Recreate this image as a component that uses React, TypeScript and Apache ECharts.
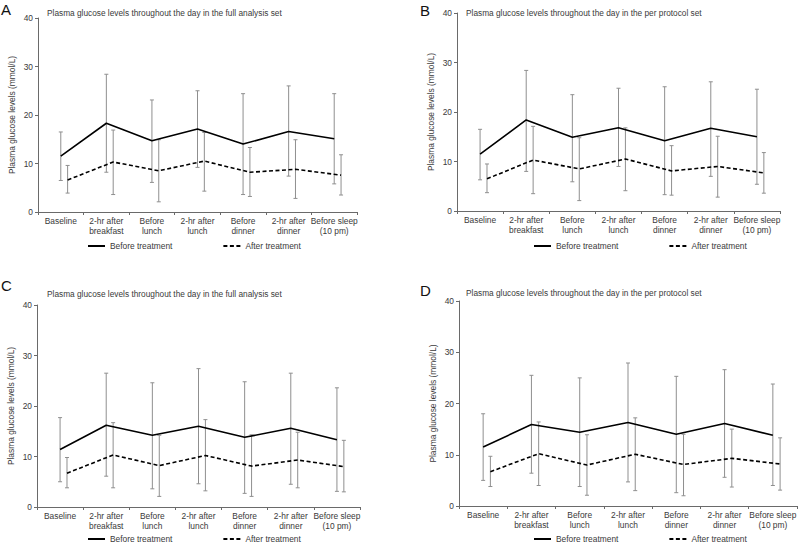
import React, { useEffect, useRef } from "react";
import * as echarts from "echarts";

const CATEGORIES = [
  "Baseline",
  "2-hr after\nbreakfast",
  "Before\nlunch",
  "2-hr after\nlunch",
  "Before\ndinner",
  "2-hr after\ndinner",
  "Before sleep\n(10 pm)",
];
const Y_TICKS = [0, 10, 20, 30, 40];
const PANEL_LETTERS = ["A", "B", "C", "D"];
const PANEL_TITLES = [
  "Plasma glucose levels throughout the day in the full analysis set",
  "Plasma glucose levels throughout the day in the per protocol set",
  "Plasma glucose levels throughout the day in the full analysis set",
  "Plasma glucose levels throughout the day in the per protocol set",
];
const Y_NAME = "Plasma glucose levels (mmol/L)";
const SERIES_NAMES = ["Before treatment", "After treatment"];

// Panel A
const beforeMeanA = [11.5, 18.3, 14.7, 17.1, 14.0, 16.6, 15.1];
const beforeLowA = [6.5, 8.2, 6.1, 9.2, 3.6, 7.4, 5.8];
const beforeHighA = [16.5, 28.4, 23.1, 25.0, 24.4, 26.0, 24.4];
const afterMeanA = [6.6, 10.3, 8.5, 10.5, 8.2, 8.8, 7.6];
const afterLowA = [3.9, 3.6, 2.1, 4.3, 3.2, 2.8, 3.5];
const afterHighA = [9.6, 16.9, 14.9, 16.4, 13.3, 14.9, 11.8];

// Panel B
const beforeMeanB = [11.5, 18.4, 14.9, 16.8, 14.2, 16.7, 15.0];
const beforeLowB = [6.3, 8.0, 5.9, 9.0, 3.3, 7.0, 5.4];
const beforeHighB = [16.5, 28.4, 23.5, 24.8, 25.1, 26.1, 24.6];
const afterMeanB = [6.5, 10.3, 8.5, 10.5, 8.1, 9.0, 7.7];
const afterLowB = [3.7, 3.5, 2.1, 4.1, 3.2, 2.8, 3.6];
const afterHighB = [9.5, 17.1, 14.8, 16.8, 13.2, 15.1, 11.8];

// Panel C
const beforeMeanC = [11.4, 16.2, 14.2, 16.0, 13.8, 15.6, 13.3];
const beforeLowC = [5.0, 6.1, 3.6, 4.6, 2.7, 4.5, 3.1];
const beforeHighC = [17.7, 26.5, 24.6, 27.4, 24.8, 26.5, 23.6];
const afterMeanC = [6.7, 10.3, 8.2, 10.2, 8.1, 9.3, 8.0];
const afterLowC = [3.8, 3.8, 2.1, 3.2, 2.1, 3.8, 3.0];
const afterHighC = [9.8, 16.7, 14.2, 17.3, 14.3, 14.8, 13.2];

// Panel D
const beforeMeanD = [11.5, 15.9, 14.4, 16.3, 14.0, 16.1, 13.8];
const beforeLowD = [5.0, 6.4, 3.8, 4.7, 2.6, 5.6, 4.0];
const beforeHighD = [18.0, 25.5, 25.0, 27.9, 25.3, 26.6, 23.8];
const afterMeanD = [6.7, 10.2, 8.0, 10.1, 8.1, 9.3, 8.2];
const afterLowD = [3.8, 4.0, 2.1, 3.0, 2.0, 3.7, 3.1];
const afterHighD = [9.7, 16.4, 13.9, 17.2, 14.0, 15.0, 13.3];

const PANELS = [
  { bm: beforeMeanA, bl: beforeLowA, bh: beforeHighA, am: afterMeanA, al: afterLowA, ah: afterHighA },
  { bm: beforeMeanB, bl: beforeLowB, bh: beforeHighB, am: afterMeanB, al: afterLowB, ah: afterHighB },
  { bm: beforeMeanC, bl: beforeLowC, bh: beforeHighC, am: afterMeanC, al: afterLowC, ah: afterHighC },
  { bm: beforeMeanD, bl: beforeLowD, bh: beforeHighD, am: afterMeanD, al: afterLowD, ah: afterHighD },
];

// Layout (styles, not data)
const FONT = "'Liberation Sans', Arial, Helvetica, sans-serif";
const TEXT_COLOR = "#3a3a3a";
const AXIS_COLOR = "#6a6a6a";
const ERR_COLOR = "#8f8f8f";
const AFTER_SHIFT = 0.15;
const CAP = 2;
const GRIDS = [
  { left: 38, top: 18, width: 319, height: 194 },
  { left: 457, top: 13, width: 323, height: 198 },
  { left: 37, top: 305, width: 323, height: 202 },
  { left: 459, top: 301, width: 338, height: 205 },
];
const LETTER_POS = [
  { left: 1, top: 2 },
  { left: 420, top: 3 },
  { left: 1, top: 278 },
  { left: 420, top: 283 },
];
const TITLE_POS = [
  { left: 47, top: 8.5 },
  { left: 466, top: 9 },
  { left: 47, top: 289.5 },
  { left: 466, top: 289 },
];
const LEGEND_POS = [
  { left: 87, top: 242 },
  { left: 533, top: 242 },
  { left: 87, top: 535 },
  { left: 533, top: 535 },
];

const errorRender = (params: any, api: any) => {
  const x = api.value(0);
  const lo = api.value(1);
  const hi = api.value(2);
  const pLo = api.coord([x, lo]);
  const pHi = api.coord([x, hi]);
  const style = { stroke: ERR_COLOR, lineWidth: 1, fill: "none" };
  return {
    type: "group",
    children: [
      { type: "line", shape: { x1: pLo[0], y1: pLo[1], x2: pHi[0], y2: pHi[1] }, style },
      { type: "line", shape: { x1: pHi[0] - CAP, y1: pHi[1], x2: pHi[0] + CAP, y2: pHi[1] }, style },
      { type: "line", shape: { x1: pLo[0] - CAP, y1: pLo[1], x2: pLo[0] + CAP, y2: pLo[1] }, style },
    ],
  };
};

function buildOption() {
  const title: any[] = [];
  const grid: any[] = [];
  const xAxis: any[] = [];
  const yAxis: any[] = [];
  const legend: any[] = [];
  const series: any[] = [];

  PANELS.forEach((p, k) => {
    title.push({
      text: PANEL_LETTERS[k],
      left: LETTER_POS[k].left,
      top: LETTER_POS[k].top,
      padding: 0,
      textStyle: { fontSize: 15, fontWeight: "normal", color: "#111", fontFamily: FONT },
    });
    title.push({
      text: PANEL_TITLES[k],
      left: TITLE_POS[k].left,
      top: TITLE_POS[k].top,
      padding: 0,
      textStyle: { fontSize: 8.3, fontWeight: "normal", color: TEXT_COLOR, fontFamily: FONT },
    });
    grid.push({ ...GRIDS[k], containLabel: false });
    xAxis.push({
      type: "category",
      gridIndex: k,
      data: CATEGORIES,
      boundaryGap: true,
      axisLine: { onZero: false, lineStyle: { color: AXIS_COLOR, width: 1 } },
      axisTick: { show: true, alignWithLabel: false, length: 3, lineStyle: { color: AXIS_COLOR } },
      axisLabel: {
        interval: 0,
        fontSize: 8.4,
        lineHeight: 10,
        margin: 4,
        color: TEXT_COLOR,
        fontFamily: FONT,
      },
      splitLine: { show: false },
    });
    xAxis.push({
      type: "value",
      gridIndex: k,
      min: -0.5,
      max: 6.5,
      show: false,
      axisLine: { onZero: false },
      splitLine: { show: false },
    });
    yAxis.push({
      type: "value",
      gridIndex: k,
      min: Y_TICKS[0],
      max: Y_TICKS[Y_TICKS.length - 1],
      interval: Y_TICKS[1] - Y_TICKS[0],
      name: Y_NAME,
      nameLocation: "middle",
      nameGap: 22,
      nameTextStyle: { fontSize: 8.4, color: TEXT_COLOR, fontFamily: FONT },
      axisLine: { show: true, onZero: false, lineStyle: { color: AXIS_COLOR, width: 1 } },
      axisTick: { show: true, length: 3, lineStyle: { color: AXIS_COLOR } },
      axisLabel: { fontSize: 8.4, margin: 5, color: TEXT_COLOR, fontFamily: FONT },
      splitLine: { show: false },
    });
    legend.push({
      data: SERIES_NAMES,
      left: LEGEND_POS[k].left,
      top: LEGEND_POS[k].top,
      padding: 0,
      itemWidth: 17,
      itemHeight: 10,
      itemGap: 50,
      selectedMode: false,
      itemStyle: { opacity: 0 },
      textStyle: { fontSize: 8.4, color: TEXT_COLOR, fontFamily: FONT },
    });

    const xa = 2 * k + 1;
    series.push({
      name: SERIES_NAMES[0],
      type: "line",
      xAxisIndex: xa,
      yAxisIndex: k,
      data: p.bm.map((v, i) => [i, v]),
      symbol: "none",
      z: 5,
      lineStyle: { color: "#000", width: 1.6, type: "solid" },
      itemStyle: { color: "#000" },
    });
    series.push({
      name: SERIES_NAMES[1],
      type: "line",
      xAxisIndex: xa,
      yAxisIndex: k,
      data: p.am.map((v, i) => [i + AFTER_SHIFT, v]),
      symbol: "none",
      z: 5,
      lineStyle: { color: "#000", width: 1.6, type: [4, 2.5] },
      itemStyle: { color: "#000" },
    });
    series.push({
      name: "before-err-" + k,
      type: "custom",
      xAxisIndex: xa,
      yAxisIndex: k,
      renderItem: errorRender,
      encode: { x: 0, y: [1, 2] },
      data: p.bl.map((lo, i) => [i, lo, p.bh[i]]),
      z: 2,
    });
    series.push({
      name: "after-err-" + k,
      type: "custom",
      xAxisIndex: xa,
      yAxisIndex: k,
      renderItem: errorRender,
      encode: { x: 0, y: [1, 2] },
      data: p.al.map((lo, i) => [i + AFTER_SHIFT, lo, p.ah[i]]),
      z: 2,
    });
  });

  return {
    animation: false,
    backgroundColor: "#ffffff",
    textStyle: { fontFamily: FONT },
    title,
    grid,
    xAxis,
    yAxis,
    legend,
    series,
  };
}

export default function App() {
  const ref = useRef<HTMLDivElement>(null);
  useEffect(() => {
    if (!ref.current) return;
    const chart = echarts.init(ref.current, undefined, { renderer: "svg" });
    chart.setOption(buildOption() as any);
    return () => chart.dispose();
  }, []);
  return (
    <div
      ref={ref}
      style={{ position: "absolute", left: 0, top: 0, width: 800, height: 544, background: "#fff" }}
    />
  );
}
